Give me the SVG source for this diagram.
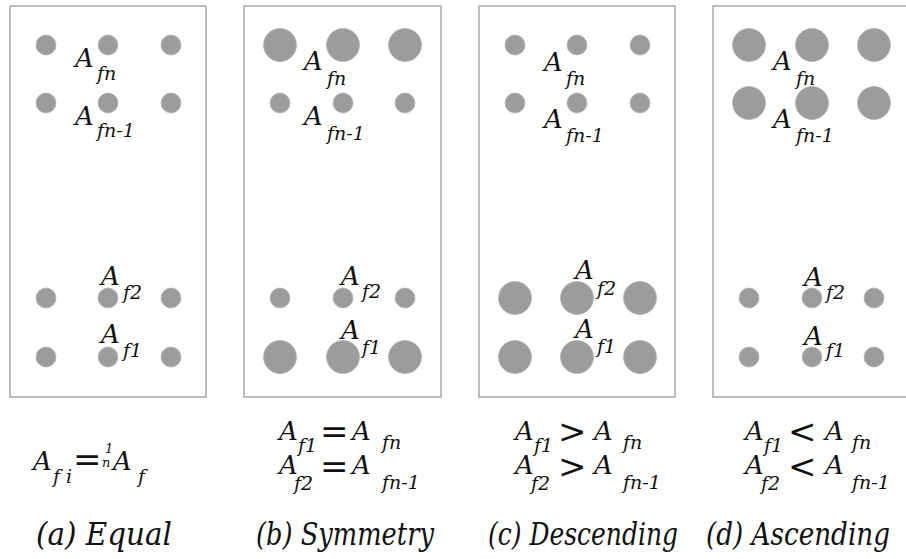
<svg xmlns="http://www.w3.org/2000/svg" width="906" height="559" viewBox="0 0 906 559">
<style>
.frame{fill:#fff;stroke:#a8a8a8;stroke-width:1.5}
.d{fill:#9c9c9c;stroke:#b4b4b4;stroke-width:0.8}
.A{font-size:26px}
.s{font-size:19px}
.op{font-size:34px}
.fr{font-size:13px}
.lbl{font-size:31px}
</style>
<rect width="906" height="559" fill="#fff"/>

<g id="panel-a" font-family="DejaVu Serif" font-style="italic" fill="#111">
<rect class="frame" x="10" y="6" width="196" height="391"/>
<circle class="d" cx="46" cy="45" r="10"/><circle class="d" cx="108" cy="45" r="10"/><circle class="d" cx="171" cy="45" r="10"/>
<circle class="d" cx="46" cy="103" r="10"/><circle class="d" cx="108" cy="103" r="10"/><circle class="d" cx="171" cy="103" r="10"/>
<circle class="d" cx="46" cy="298" r="10"/><circle class="d" cx="108" cy="298" r="10"/><circle class="d" cx="171" cy="298" r="10"/>
<circle class="d" cx="46" cy="357" r="10"/><circle class="d" cx="108" cy="357" r="10"/><circle class="d" cx="171" cy="357" r="10"/>
<text class="A" x="75" y="67">A</text><text class="s" x="97" y="80">fn</text>
<text class="A" x="75" y="125">A</text><text class="s" x="97" y="137">fn-1</text>
<text class="A" x="101" y="285">A</text><text class="s" x="123" y="299">f2</text>
<text class="A" x="101" y="343">A</text><text class="s" x="123" y="357">f1</text>
</g>

<g id="panel-b" font-family="DejaVu Serif" font-style="italic" fill="#111">
<rect class="frame" x="244" y="6" width="197" height="391"/>
<circle class="d" cx="280" cy="45" r="16.5"/><circle class="d" cx="343" cy="45" r="16.5"/><circle class="d" cx="405" cy="45" r="16.5"/>
<circle class="d" cx="280" cy="103" r="10"/><circle class="d" cx="343" cy="103" r="10"/><circle class="d" cx="405" cy="103" r="10"/>
<circle class="d" cx="280" cy="298" r="10"/><circle class="d" cx="343" cy="298" r="10"/><circle class="d" cx="405" cy="298" r="10"/>
<circle class="d" cx="280" cy="357" r="16.5"/><circle class="d" cx="343" cy="357" r="16.5"/><circle class="d" cx="405" cy="357" r="16.5"/>
<text class="A" x="304" y="70">A</text><text class="s" x="327" y="85">fn</text>
<text class="A" x="304" y="125">A</text><text class="s" x="327" y="140">fn-1</text>
<text class="A" x="341" y="285">A</text><text class="s" x="362" y="298">f2</text>
<text class="A" x="341" y="339">A</text><text class="s" x="362" y="354">f1</text>
</g>

<g id="panel-c" font-family="DejaVu Serif" font-style="italic" fill="#111">
<rect class="frame" x="479" y="6" width="196" height="391"/>
<circle class="d" cx="515" cy="45" r="10"/><circle class="d" cx="577" cy="45" r="10"/><circle class="d" cx="640" cy="45" r="10"/>
<circle class="d" cx="515" cy="103" r="10"/><circle class="d" cx="577" cy="103" r="10"/><circle class="d" cx="640" cy="103" r="10"/>
<circle class="d" cx="515" cy="298" r="16.5"/><circle class="d" cx="577" cy="298" r="16.5"/><circle class="d" cx="640" cy="298" r="16.5"/>
<circle class="d" cx="515" cy="357" r="16.5"/><circle class="d" cx="577" cy="357" r="16.5"/><circle class="d" cx="640" cy="357" r="16.5"/>
<text class="A" x="544" y="71">A</text><text class="s" x="566" y="85">fn</text>
<text class="A" x="544" y="128">A</text><text class="s" x="566" y="142">fn-1</text>
<text class="A" x="575" y="279">A</text><text class="s" x="597" y="295">f2</text>
<text class="A" x="575" y="338">A</text><text class="s" x="597" y="353">f1</text>
</g>

<g id="panel-d" font-family="DejaVu Serif" font-style="italic" fill="#111">
<rect class="frame" x="713" y="6" width="197" height="391"/>
<circle class="d" cx="749" cy="45" r="16.5"/><circle class="d" cx="812" cy="45" r="16.5"/><circle class="d" cx="874" cy="45" r="16.5"/>
<circle class="d" cx="749" cy="103" r="16.5"/><circle class="d" cx="812" cy="103" r="16.5"/><circle class="d" cx="874" cy="103" r="16.5"/>
<circle class="d" cx="749" cy="298" r="10"/><circle class="d" cx="812" cy="298" r="10"/><circle class="d" cx="874" cy="298" r="10"/>
<circle class="d" cx="749" cy="357" r="10"/><circle class="d" cx="812" cy="357" r="10"/><circle class="d" cx="874" cy="357" r="10"/>
<text class="A" x="773" y="70">A</text><text class="s" x="796" y="85">fn</text>
<text class="A" x="773" y="128">A</text><text class="s" x="796" y="142">fn-1</text>
<text class="A" x="804" y="286">A</text><text class="s" x="826" y="299">f2</text>
<text class="A" x="804" y="345">A</text><text class="s" x="826" y="357">f1</text>
</g>

<g id="formula-a" font-family="DejaVu Serif" font-style="italic" fill="#111">
<text class="A" x="33" y="470">A</text><text class="s" x="53" y="483">f i</text>
<text class="op" x="73" y="471" font-style="normal">=</text>
<text class="fr" x="105" y="453">1</text><text class="fr" x="102" y="467">n</text>
<text class="A" x="113" y="470">A</text><text class="s" x="138" y="483">f</text>
</g>
<g id="formula-b" font-family="DejaVu Serif" font-style="italic" fill="#111">
<text class="A" x="279" y="440">A</text><text class="s" x="298" y="452">f1</text>
<text class="op" x="320" y="443" font-style="normal">=</text>
<text class="A" x="352" y="440">A</text><text class="s" x="382" y="449">fn</text>
<text class="A" x="279" y="474">A</text><text class="s" x="294" y="490">f2</text>
<text class="op" x="320" y="478" font-style="normal">=</text>
<text class="A" x="352" y="474">A</text><text class="s" x="382" y="489">fn-1</text>
</g>
<g id="formula-c" font-family="DejaVu Serif" font-style="italic" fill="#111">
<text class="A" x="515" y="440">A</text><text class="s" x="534" y="452">f1</text>
<text class="op" x="558" y="443" font-style="normal">&gt;</text>
<text class="A" x="594" y="440">A</text><text class="s" x="623" y="449">fn</text>
<text class="A" x="515" y="474">A</text><text class="s" x="531" y="490">f2</text>
<text class="op" x="558" y="478" font-style="normal">&gt;</text>
<text class="A" x="594" y="474">A</text><text class="s" x="623" y="489">fn-1</text>
</g>
<g id="formula-d" font-family="DejaVu Serif" font-style="italic" fill="#111">
<text class="A" x="745" y="440">A</text><text class="s" x="764" y="452">f1</text>
<text class="op" x="788" y="443" font-style="normal">&lt;</text>
<text class="A" x="825" y="440">A</text><text class="s" x="852" y="449">fn</text>
<text class="A" x="745" y="474">A</text><text class="s" x="761" y="490">f2</text>
<text class="op" x="788" y="478" font-style="normal">&lt;</text>
<text class="A" x="825" y="474">A</text><text class="s" x="852" y="489">fn-1</text>
</g>

<g id="labels" font-family="DejaVu Serif" font-style="italic" fill="#111">
<text class="lbl" x="36" y="545" textLength="136" lengthAdjust="spacingAndGlyphs">(a) Equal</text>
<text class="lbl" x="256" y="545" textLength="178" lengthAdjust="spacingAndGlyphs">(b) Symmetry</text>
<text class="lbl" x="488" y="545" textLength="190" lengthAdjust="spacingAndGlyphs">(c) Descending</text>
<text class="lbl" x="706" y="545" textLength="184" lengthAdjust="spacingAndGlyphs">(d) Ascending</text>
</g>
</svg>
